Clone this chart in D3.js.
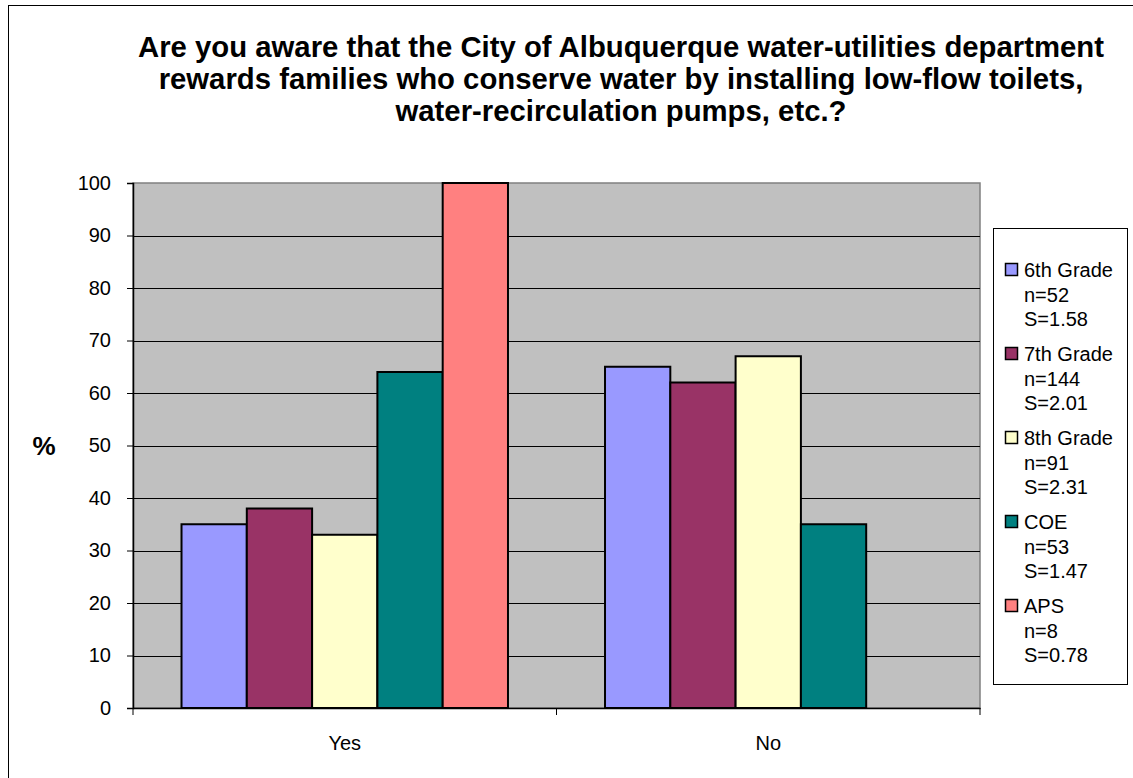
<!DOCTYPE html>
<html><head><meta charset="utf-8">
<script src="https://cdn.jsdelivr.net/npm/d3@7"></script>
<style>
html,body{margin:0;padding:0;background:#fff;}
svg{display:block;font-family:"Liberation Sans",Arial,sans-serif;}
</style></head><body>
<svg id="chart" width="1133" height="778"></svg>
<script>
const categories = ["Yes", "No"];
const seriesNames = ["6th Grade", "7th Grade", "8th Grade", "COE", "APS"];
const seriesN = ["n=52", "n=144", "n=91", "n=53", "n=8"];
const seriesS = ["S=1.58", "S=2.01", "S=2.31", "S=1.47", "S=0.78"];
const valuesYes = [35, 38, 33, 64, 100];
const valuesNo = [65, 62, 67, 35, null];
const seriesColors = ["#9999FF", "#993366", "#FFFFCC", "#008080", "#FF8080"];
const yTicks = [0, 10, 20, 30, 40, 50, 60, 70, 80, 90, 100];
const titleLines = [
  "Are you aware that the City of Albuquerque water-utilities department",
  "rewards families who conserve water by installing low-flow toilets,",
  "water-recirculation pumps, etc.?"
];

const svg = d3.select("#chart");
const plot = {left: 133, right: 980, top: 183, bottom: 708};

// outer border
svg.append("rect").attr("x", 8.5).attr("y", 5.5).attr("width", 1140).attr("height", 800)
  .attr("fill", "#fff").attr("stroke", "#000").attr("stroke-width", 1);

// title
const title = svg.append("text").attr("text-anchor", "middle")
  .attr("font-weight", "bold").attr("font-size", 29.3).attr("fill", "#000");
titleLines.forEach((l, i) => {
  title.append("tspan").attr("x", 621).attr("y", 57 + i * 32).text(l);
});

const x0 = d3.scaleBand().domain(categories).range([plot.left, plot.right]).padding(0);
const x1 = d3.scaleBand().domain(seriesNames).range([0, x0.bandwidth()])
  .paddingInner(0).paddingOuter(0.743);
const y = d3.scaleLinear().domain([0, 100]).range([plot.bottom, plot.top]);

// plot background
svg.append("rect").attr("x", plot.left).attr("y", plot.top)
  .attr("width", plot.right - plot.left).attr("height", plot.bottom - plot.top)
  .attr("fill", "#C0C0C0").attr("stroke", "#808080").attr("stroke-width", 1.5);

// gridlines
svg.append("g").selectAll("line").data(yTicks.filter(t => t > 0 && t < 100)).join("line")
  .attr("x1", plot.left).attr("x2", plot.right)
  .attr("y1", d => Math.round(y(d)) + 0.5).attr("y2", d => Math.round(y(d)) + 0.5)
  .attr("stroke", "#000").attr("stroke-width", 1);

// bars
const data = [valuesYes, valuesNo];
categories.forEach((c, ci) => {
  const g = svg.append("g").attr("transform", `translate(${x0(c)},0)`);
  seriesNames.forEach((s, si) => {
    const v = data[ci][si];
    if (v == null) return;
    g.append("rect")
      .attr("x", x1(s)).attr("y", y(v))
      .attr("width", x1.bandwidth()).attr("height", y(0) - y(v))
      .attr("fill", seriesColors[si]).attr("stroke", "#000").attr("stroke-width", 2);
  });
});

// y axis
const yAxis = d3.axisLeft(y).tickValues(yTicks).tickSize(6).tickPadding(16).tickFormat(d3.format("d"));
const ya = svg.append("g").attr("transform", `translate(${plot.left},0)`).call(yAxis);
ya.select(".domain").attr("stroke", "#000").attr("stroke-width", 1.5);
ya.selectAll(".tick line").attr("stroke", "#000");
ya.selectAll(".tick text").attr("font-size", 20).attr("fill", "#000")
  .attr("font-family", "Liberation Sans, Arial, sans-serif");

// x axis
const xAxis = d3.axisBottom(x0).tickSize(0).tickPadding(28);
const xa = svg.append("g").attr("transform", `translate(0,${plot.bottom})`).call(xAxis);
xa.select(".domain").attr("stroke", "#000").attr("stroke-width", 1.5);
xa.selectAll(".tick text").attr("font-size", 20).attr("fill", "#000")
  .attr("font-family", "Liberation Sans, Arial, sans-serif");
// category boundary ticks
const bounds = categories.map(c => x0(c)).concat([x0(categories[categories.length - 1]) + x0.bandwidth()]);
svg.append("g").selectAll("line").data(bounds).join("line")
  .attr("x1", d => d).attr("x2", d => d)
  .attr("y1", plot.bottom).attr("y2", plot.bottom + 7)
  .attr("stroke", "#000").attr("stroke-width", 1);

// y label
svg.append("text").attr("x", 44).attr("y", 455).attr("text-anchor", "middle")
  .attr("font-weight", "bold").attr("font-size", 26).attr("fill", "#000").text("%");

// legend
const lg = svg.append("g");
lg.append("rect").attr("x", 993.5).attr("y", 228.5).attr("width", 134).attr("height", 456)
  .attr("fill", "#fff").attr("stroke", "#000").attr("stroke-width", 1);
seriesNames.forEach((s, i) => {
  const top = 277 + i * 84;
  lg.append("rect").attr("x", 1005.5).attr("y", top - 13.5).attr("width", 12).attr("height", 12)
    .attr("fill", seriesColors[i]).attr("stroke", "#000").attr("stroke-width", 1.5);
  const t = lg.append("text").attr("font-size", 20).attr("fill", "#000");
  [s, seriesN[i], seriesS[i]].forEach((line, li) => {
    t.append("tspan").attr("x", 1024).attr("y", top + li * 24.5).text(line);
  });
});
</script>
</body></html>
